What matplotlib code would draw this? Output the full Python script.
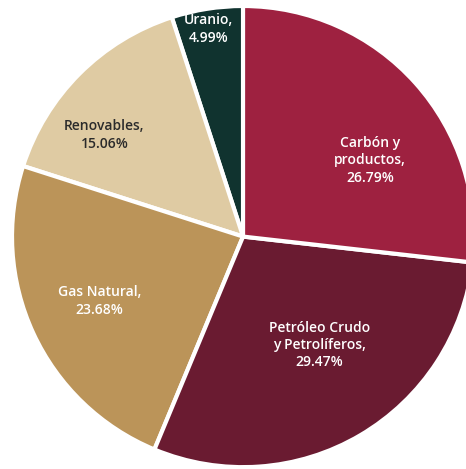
import matplotlib
matplotlib.use("Agg")
import matplotlib.pyplot as plt

# Mezcla de energía primaria (%)
labels = ["Uranio,\n4.99%", "Renovables,\n15.06%", "Gas Natural,\n23.68%",
          "Petróleo Crudo\ny Petrolíferos,\n29.47%", "Carbón y\nproductos,\n26.79%"]
shares = [4.99, 15.06, 23.68, 29.47, 26.79]
colors = ["#10332f", "#dfcba3", "#bb9459", "#6a1b31", "#9e2140"]
text_colors = ["white", "#2b2b2b", "white", "white", "white"]
label_xy = [(-0.15, 0.90), (-0.60, 0.44), (-0.62, -0.28), (0.33, -0.47), (0.55, 0.33)]

plt.rcParams["font.family"] = ["Open Sans", "DejaVu Sans"]

fig = plt.figure(figsize=(4.66, 4.69), dpi=100)
ax = fig.add_axes([0, 0, 1, 1])

ax.pie(shares, colors=colors, startangle=90, counterclock=True,
       wedgeprops=dict(edgecolor="white", linewidth=3), radius=1.0)

for txt, (x, y), c in zip(labels, label_xy, text_colors):
    ax.text(x, y, txt, ha="center", va="center", color=c,
            fontsize=10, fontweight="semibold", linespacing=1.3)

ax.set_xlim(-1.052, 0.965)
ax.set_ylim(-1.008, 1.026)
ax.set_aspect("auto")
ax.axis("off")

fig.savefig("out.png", dpi=100, facecolor="white")
